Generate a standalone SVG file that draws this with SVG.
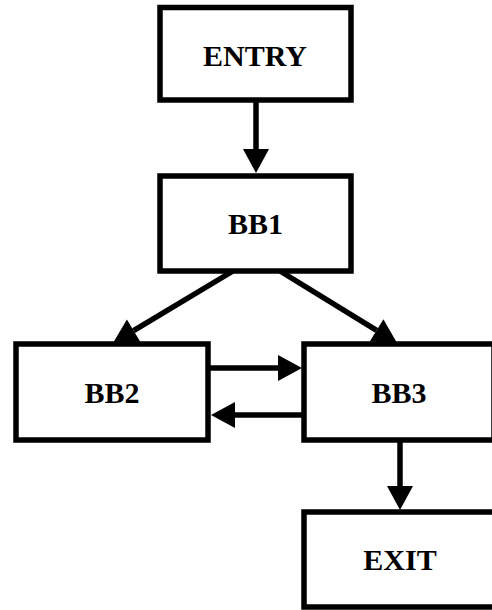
<svg xmlns="http://www.w3.org/2000/svg" width="492" height="610" viewBox="0 0 492 610">
<style>
.box{fill:#fff;stroke:#000;stroke-width:5.5}
.lbl{font-family:"Liberation Serif","Times New Roman",serif;font-weight:bold;font-size:30px;text-anchor:middle;fill:#000}
.edge{stroke:#000;stroke-width:5.5;fill:none;marker-end:url(#ah)}
</style>
<defs>
<marker id="ah" markerUnits="userSpaceOnUse" markerWidth="24" markerHeight="26" refX="0" refY="13" orient="auto" viewBox="0 0 24 26" overflow="visible">
<path d="M0,0 L24,13 L0,26 z" fill="#000"/>
</marker>
</defs>
<rect width="492" height="610" fill="#fff"/>
<g id="connectors">
<line class="edge" x1="256" y1="100" x2="256" y2="149"/>
<line class="edge" x1="233" y1="271" x2="133.6" y2="330.6"/>
<line class="edge" x1="280" y1="271" x2="376.6" y2="330.4"/>
<line class="edge" x1="208" y1="368" x2="278" y2="368"/>
<line class="edge" x1="304" y1="415" x2="235" y2="415"/>
<line class="edge" x1="400" y1="440" x2="400" y2="486"/>
</g>
<g id="ENTRY"><rect class="box" x="160" y="7.5" width="191" height="92.5"/><text class="lbl" x="255" y="66">ENTRY</text></g>
<g id="BB1"><rect class="box" x="160" y="176" width="191" height="95"/><text class="lbl" x="255.5" y="234">BB1</text></g>
<g id="BB2"><rect class="box" x="16" y="344" width="192" height="96"/><text class="lbl" x="112" y="403">BB2</text></g>
<g id="BB3"><rect class="box" x="304" y="344" width="190" height="96"/><text class="lbl" x="399" y="403">BB3</text></g>
<g id="EXIT"><rect class="box" x="304" y="512" width="192" height="95"/><text class="lbl" x="400" y="570">EXIT</text></g>
</svg>
